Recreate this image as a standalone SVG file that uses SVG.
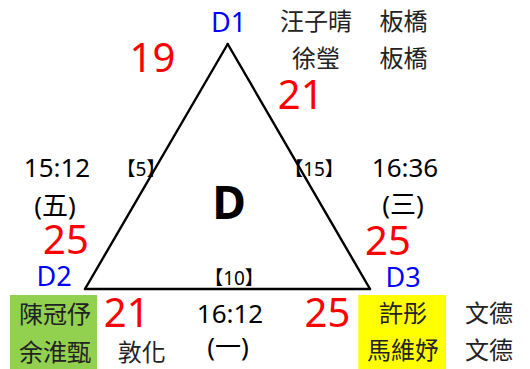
<svg xmlns="http://www.w3.org/2000/svg" width="530" height="369" viewBox="0 0 530 369">
<style>
text{font-family:"Noto Sans","Noto Sans CJK TC",sans-serif;text-anchor:middle;fill:#000}
.node{fill:#0000FF;font-size:27px}
.score{fill:#FF0000;font-size:40px}
.time{font-size:26px}
.name{font-size:24px;fill:#222}
.court{font-size:19px}
.edge{stroke:#000;stroke-width:2.4;fill:none;stroke-linecap:round}
</style>
<rect width="530" height="369" fill="#fff"/>
<g id="connectors">
  <line class="edge" x1="227.7" y1="44" x2="85" y2="289"/>
  <line class="edge" x1="227.7" y1="44" x2="370" y2="289"/>
  <line class="edge" x1="85" y1="289" x2="370" y2="289"/>
  <text class="court" x="141" y="175.5">【5】</text>
  <text class="court" x="314" y="175.5">【15】</text>
  <text class="court" x="234" y="285">【10】</text>
  <text class="time" x="57" y="176.5">15:12</text>
  <text class="time" x="55" y="214.5">(五)</text>
  <text class="time" x="405" y="176.5">16:36</text>
  <text class="time" x="403" y="213.5">(三)</text>
  <text class="time" x="230" y="322.5">16:12</text>
  <text class="time" x="228" y="356">(一)</text>
  <text class="score" x="152.5" y="71.7">19</text>
  <text class="score" x="300.7" y="109">21</text>
  <text class="score" x="66" y="254">25</text>
  <text class="score" x="388" y="255">25</text>
  <text class="score" x="126.7" y="327.3">21</text>
  <text class="score" x="327.5" y="326.7">25</text>
</g>
<g id="group-D">
  <text x="229" y="219.3" style="font-size:46px;font-weight:bold">D</text>
</g>
<g id="D1">
  <text class="node" x="228.5" y="32">D1</text>
  <text class="name" x="316" y="30">汪子晴</text>
  <text class="name" x="403.5" y="30">板橋</text>
  <text class="name" x="316" y="66.6">徐瑩</text>
  <text class="name" x="403.5" y="66.6">板橋</text>
</g>
<g id="D2">
  <text class="node" x="54" y="285.7">D2</text>
  <rect x="10" y="295" width="87" height="74" fill="#92D050"/>
  <text class="name" x="55" y="323.3">陳冠伃</text>
  <text class="name" x="55" y="361">余淮甄</text>
  <text class="name" x="141.7" y="361">敦化</text>
</g>
<g id="D3">
  <text class="node" x="403" y="287.3">D3</text>
  <rect x="358.3" y="295" width="87.7" height="74" fill="#FFFF00"/>
  <text class="name" x="403" y="321.5">許彤</text>
  <text class="name" x="403" y="358.5">馬維妤</text>
  <text class="name" x="489" y="321.5">文德</text>
  <text class="name" x="489" y="358.5">文德</text>
</g>
</svg>
